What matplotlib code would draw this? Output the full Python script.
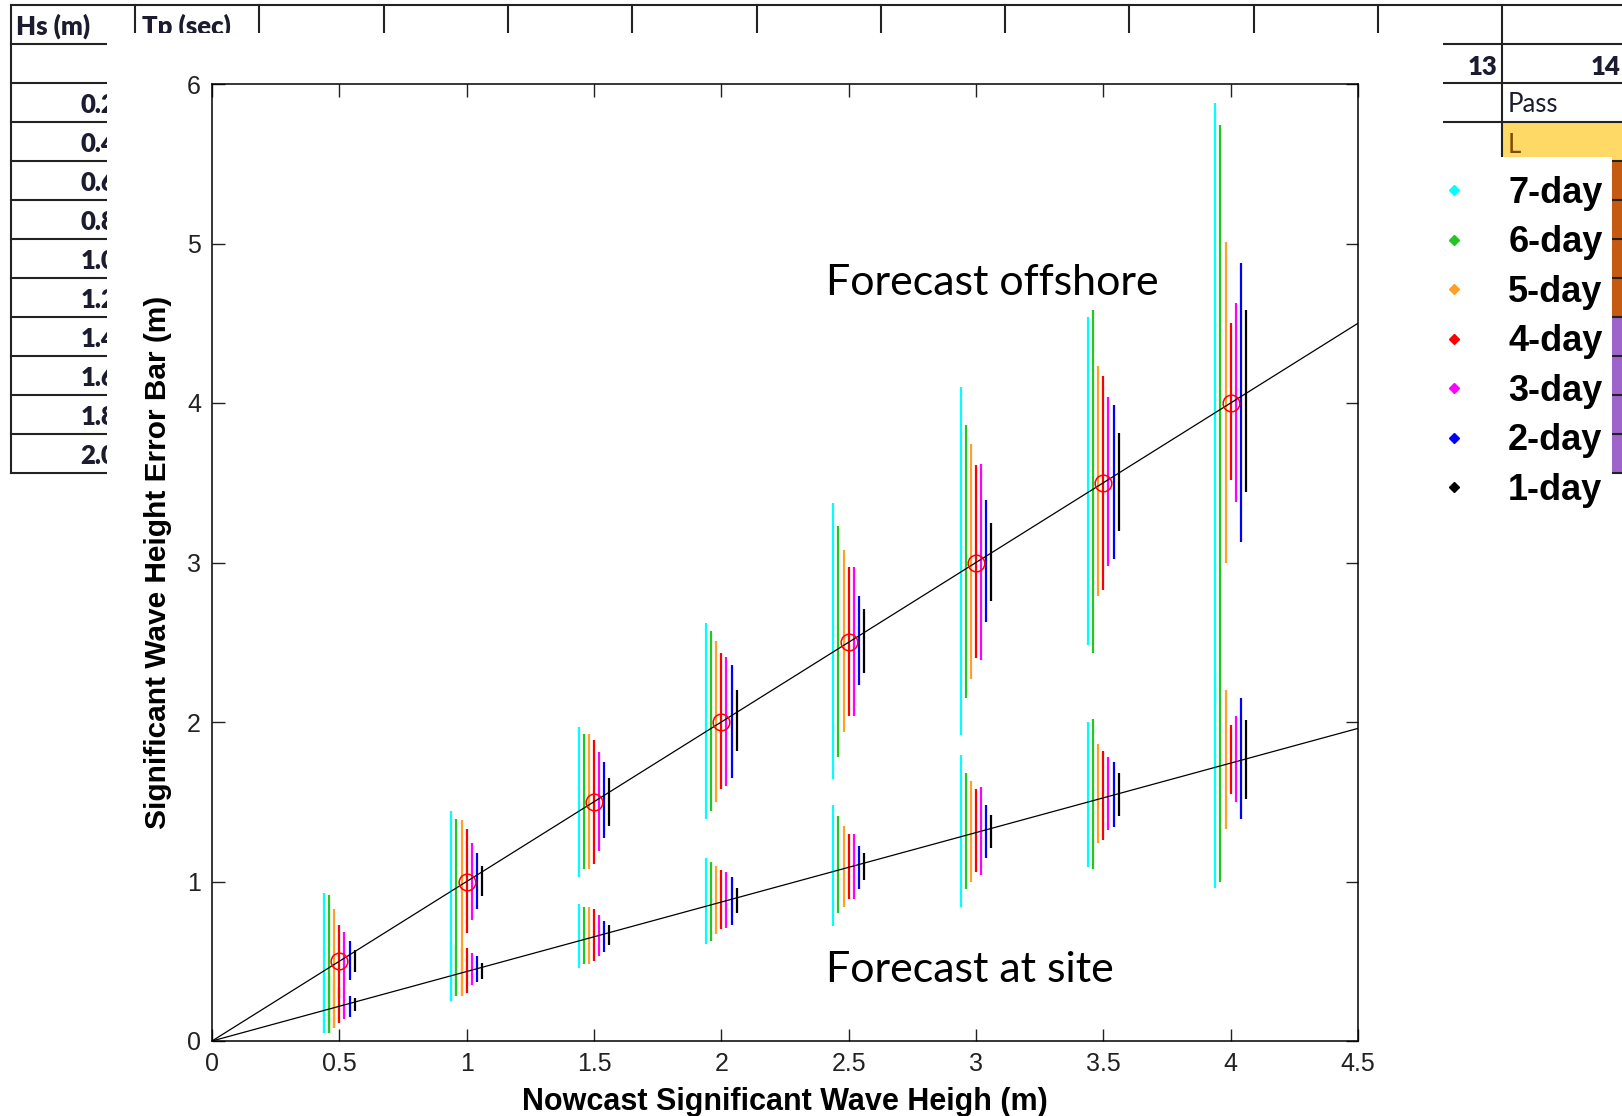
import matplotlib.pyplot as plt
from matplotlib.lines import Line2D
from matplotlib.patches import Rectangle

plt.rcParams['font.family'] = ['Liberation Sans Narrow', 'Liberation Sans', 'DejaVu Sans']

# ------------------------------------------------------------
# data
# ------------------------------------------------------------
nowcast = [0.5, 1.0, 1.5, 2.0, 2.5, 3.0, 3.5, 4.0]
leads = ['7-day', '6-day', '5-day', '4-day', '3-day', '2-day', '1-day']
lead_colors = ['#00FFFF', '#22C822', '#FFA028', '#FF0000', '#FF00FF', '#0000FF', '#000000']

# error bar ends, forecast offshore (one row per lead time)
offshore_lo = [
    [0.05, 0.25, 1.03, 1.39, 1.64, 1.92, 2.48, 2.10],
    [0.05, 0.28, 1.08, 1.44, 1.78, 2.15, 2.43, 2.25],
    [0.08, 0.28, 1.08, 1.50, 1.94, 2.27, 2.79, 3.00],
    [0.27, 0.68, 1.11, 1.58, 2.04, 2.40, 2.83, 3.52],
    [0.31, 0.76, 1.19, 1.60, 2.04, 2.39, 2.98, 3.38],
    [0.38, 0.83, 1.27, 1.65, 2.23, 2.63, 3.02, 3.13],
    [0.43, 0.91, 1.35, 1.82, 2.31, 2.76, 3.20, 3.44],
]
offshore_hi = [
    [0.925, 1.44, 1.97, 2.62, 3.37, 4.10, 4.54, 5.88],
    [0.915, 1.39, 1.925, 2.57, 3.23, 3.86, 4.58, 5.74],
    [0.83, 1.385, 1.925, 2.51, 3.08, 3.74, 4.23, 5.01],
    [0.73, 1.33, 1.89, 2.43, 2.97, 3.61, 4.17, 4.50],
    [0.685, 1.24, 1.81, 2.41, 2.97, 3.62, 4.04, 4.63],
    [0.63, 1.18, 1.75, 2.36, 2.79, 3.39, 3.99, 4.88],
    [0.57, 1.10, 1.65, 2.20, 2.71, 3.25, 3.81, 4.58],
]
# error bar ends, forecast at site
site_lo = [
    [0.05, 0.25, 0.46, 0.61, 0.72, 0.84, 1.09, 0.96],
    [0.05, 0.28, 0.48, 0.63, 0.80, 0.95, 1.08, 1.00],
    [0.08, 0.28, 0.48, 0.67, 0.84, 1.00, 1.24, 1.33],
    [0.11, 0.30, 0.50, 0.70, 0.89, 1.06, 1.26, 1.55],
    [0.14, 0.35, 0.53, 0.71, 0.89, 1.04, 1.32, 1.50],
    [0.15, 0.37, 0.56, 0.73, 0.95, 1.15, 1.34, 1.39],
    [0.19, 0.39, 0.60, 0.80, 1.01, 1.21, 1.41, 1.52],
]
site_hi = [
    [0.42, 0.62, 0.86, 1.15, 1.48, 1.79, 2.00, 2.30],
    [0.41, 0.60, 0.84, 1.12, 1.41, 1.68, 2.02, 2.25],
    [0.38, 0.58, 0.84, 1.10, 1.35, 1.63, 1.86, 2.20],
    [0.34, 0.58, 0.83, 1.07, 1.30, 1.58, 1.82, 1.98],
    [0.31, 0.55, 0.79, 1.06, 1.30, 1.59, 1.78, 2.04],
    [0.28, 0.53, 0.75, 1.03, 1.22, 1.48, 1.75, 2.15],
    [0.27, 0.49, 0.73, 0.96, 1.18, 1.42, 1.68, 2.01],
]

# fitted lines
fit_x = [0.0, 4.5]
fit_offshore = [0.0, 4.5]
fit_site = [0.0, 1.96]

# spreadsheet behind the plot
hs_values = ['0.20', '0.40', '0.60', '0.80', '1.00', '1.20', '1.40', '1.60', '1.80', '2.00']

# ------------------------------------------------------------
# figure + spreadsheet background (pixel coordinates)
# ------------------------------------------------------------
W, H = 1622, 1116
fig = plt.figure(figsize=(W / 100, H / 100), dpi=100)
bg = fig.add_axes([0, 0, 1, 1])
bg.set_xlim(0, W)
bg.set_ylim(H, 0)
bg.axis('off')

row_y = [5 + 39 * k for k in range(13)]
col_x = [10.7 + 124.3 * k for k in range(13)]

bg.add_patch(Rectangle((1502, 122), 130, 39, color='#FFD966', lw=0))
bg.add_patch(Rectangle((1502, 161), 130, 156, color='#C55A11', lw=0))
bg.add_patch(Rectangle((1502, 317), 130, 156, color='#9E64CC', lw=0))

for y in row_y:
    bg.plot([col_x[0], W], [y, y], color='#222222', lw=1.5)
for x in col_x:
    bg.plot([x, x], [row_y[0], row_y[-1]], color='#222222', lw=1.5)

xl_font = dict(family=['Lato', 'DejaVu Sans'], fontsize=18.5, color='#1c1c30')
bg.text(16, 35, 'Hs (m)', fontweight='heavy', ha='left', va='baseline', **xl_font)
bg.text(142, 35, 'Tp (sec)', fontweight='heavy', ha='left', va='baseline', **xl_font)
for i, v in enumerate(hs_values):
    bg.text(131, row_y[2] + 30 + 39 * i, v, fontweight='heavy', ha='right', va='baseline', **xl_font)
bg.text(1497, row_y[1] + 31, '13', fontweight='heavy', ha='right', va='baseline', **xl_font)
bg.text(1621, row_y[1] + 31, '14', fontweight='heavy', ha='right', va='baseline', **xl_font)
bg.text(1508, row_y[2] + 29, 'Pass', ha='left', va='baseline', **xl_font)
bg.text(1508, row_y[3] + 31, 'L', ha='left', va='baseline',
        family=['Lato', 'DejaVu Sans'], fontsize=18.5, color='#7F4A00')

# pasted plot image and legend image (white)
bg.add_patch(Rectangle((107, 33), 1336, H - 33, color='white', lw=0, zorder=5))
bg.add_patch(Rectangle((1440, 157), 172, 350, color='white', lw=0, zorder=5))

# ------------------------------------------------------------
# main plot
# ------------------------------------------------------------
ax = fig.add_axes([212 / W, 1 - 1041 / H, (1358 - 212) / W, (1041 - 84) / H])
ax.patch.set_visible(False)

dodge = [-0.06, -0.04, -0.02, 0.0, 0.02, 0.04, 0.06]
for i, c in enumerate(lead_colors):
    xs = [x + dodge[i] for x in nowcast]
    ax.vlines(xs, offshore_lo[i], offshore_hi[i], color=c, lw=1.6, zorder=3)
    ax.vlines(xs, site_lo[i], site_hi[i], color=c, lw=1.6, zorder=3)

ax.plot(fit_x, fit_offshore, color='black', lw=0.9, zorder=4)
ax.plot(fit_x, fit_site, color='black', lw=0.9, zorder=4)
ax.plot(nowcast, nowcast, 'o', mfc='none', mec='red', ms=12, mew=1.1, zorder=5)

ax.set_xlim(0, 4.5)
ax.set_ylim(0, 6)
ax.set_xticks([0, 0.5, 1, 1.5, 2, 2.5, 3, 3.5, 4, 4.5])
ax.set_xticklabels(['0', '0.5', '1', '1.5', '2', '2.5', '3', '3.5', '4', '4.5'])
ax.set_yticks([0, 1, 2, 3, 4, 5, 6])
ax.tick_params(direction='in', length=9, width=1, top=True, right=True,
               labelsize=18, colors='#222222', pad=8)
for s in ax.spines.values():
    s.set_linewidth(1.1)

ax.set_xlabel('Nowcast Significant Wave Heigh (m)', fontsize=22, fontweight='bold',
              family=['Liberation Sans', 'DejaVu Sans'], labelpad=8)
ax.set_ylabel('Significant Wave Height Error Bar (m)', fontsize=21.5, fontweight='bold',
              family=['Liberation Sans', 'DejaVu Sans'], labelpad=11)

ax.text(2.41, 4.75, 'Forecast offshore', fontsize=31, family=['Lato', 'DejaVu Sans'],
        ha='left', va='center')
ax.text(2.41, 0.445, 'Forecast at site', fontsize=31, family=['Lato', 'DejaVu Sans'],
        ha='left', va='center')

handles = [Line2D([], [], marker='D', ls='none', color=c, markersize=5) for c in lead_colors]
fig.legend(handles, leads, loc='upper left', bbox_to_anchor=(1436 / W, 1 - 176 / H),
           frameon=False, borderpad=0, borderaxespad=0, handlelength=1.0,
           handletextpad=1.0, labelspacing=0.40,
           prop={'family': ['Liberation Sans', 'DejaVu Sans'], 'weight': 'bold', 'size': 26})

fig.savefig('out.png', dpi=100, facecolor='white')
